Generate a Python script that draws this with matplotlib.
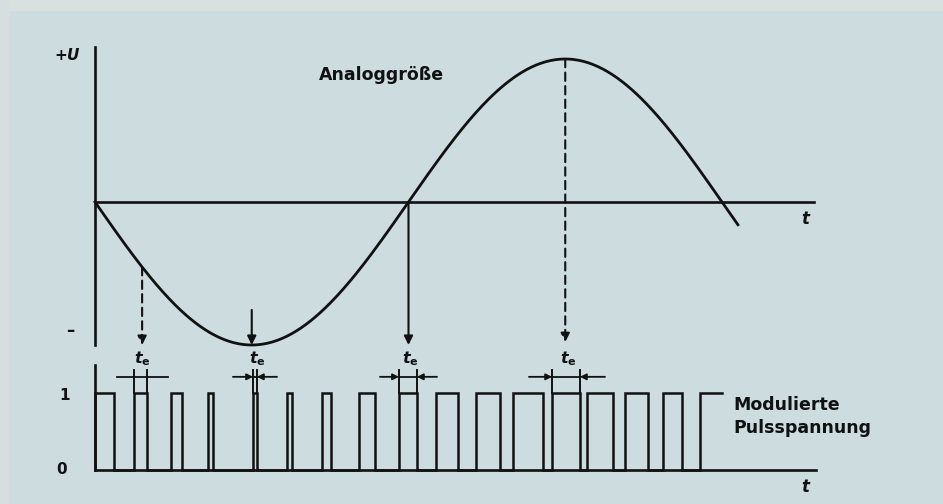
import matplotlib
matplotlib.use("Agg")
import matplotlib.pyplot as plt
import numpy as np
from matplotlib.patches import Rectangle

plt.rcParams["mathtext.fontset"] = "custom"
plt.rcParams["mathtext.it"] = "DejaVu Sans:italic:bold"
plt.rcParams["mathtext.rm"] = "DejaVu Sans:bold"

# Zeitachse in Takt-Einheiten, Analoggröße normiert auf Amplitude 1
T_SIG = 16.5           # Periode der Analoggröße
T_END = 16.92          # Ende der gezeichneten Sinuskurve
T_AXIS = 18.92         # Länge der t-Achse

# Flanken der modulierten Pulsspannung (steigend / fallend)
RISE = [0.0, 1.03, 2.0, 2.97, 4.16, 5.05, 5.97, 6.95, 8.0, 8.97,
        10.03, 11.0, 12.03, 12.95, 13.95, 14.95, 15.92]
FALL = [0.5, 1.37, 2.29, 3.11, 4.26, 5.18, 6.21, 7.37, 8.47, 9.55,
        10.66, 11.79, 12.76, 13.63, 14.55, 15.45]
PULSE_END = 16.5

# Abtastpfeile: (t, von U, bis U, gestrichelt)
ARROWS_T = [1.24, 4.125, 8.25, 12.375]
ARROWS_FROM = [-0.455, -0.755, 0.0, 1.0]
ARROWS_TO = [-1.0, -1.0, -1.0, -0.98]
ARROWS_DASHED = [True, False, False, True]

# Bemaßung t_e: Pulsflanken, Linienenden, Pfeile ja/nein
TE_LEFT = [1.03, 4.16, 8.0, 12.03]
TE_RIGHT = [1.37, 4.26, 8.47, 12.76]
TE_FROM = [0.58, 3.63, 7.5, 11.42]
TE_TO = [1.92, 4.79, 9.0, 13.42]
TE_ARROWS = [False, True, True, True]

BG = "#cddcdf"
INK = "#111111"

fig = plt.figure(figsize=(9.43, 5.04), dpi=100, facecolor=BG)
fig.patches.append(Rectangle((0, 0.98), 1, 0.02, transform=fig.transFigure,
                             color="#d9e0e0", zorder=0))
fig.patches.append(Rectangle((0, 0), 0.009, 1, transform=fig.transFigure,
                             color="#d6dedf", zorder=0))

# x: px = 95 + 38 t ; oben: px = 202 - 143 U ; unten: px = 470 - 77 Pegel
xlim = (-95 / 38, (943 - 95) / 38)
top = fig.add_axes([0, 0, 1, 1], facecolor="none")
top.set_xlim(*xlim); top.set_ylim((202 - 504) / 143, 202 / 143); top.axis("off")
bot = fig.add_axes([0, 0, 1, 1], facecolor="none")
bot.set_xlim(*xlim); bot.set_ylim((470 - 504) / 77, 470 / 77); bot.axis("off")

# --- Analoggröße ---
top.plot([0, 0], [-1.0, (202 - 47) / 143], color=INK, lw=1.9)
top.plot([0, T_AXIS], [0, 0], color=INK, lw=1.9)
t = np.linspace(0, T_END, 400)
top.plot(t, -np.sin(2 * np.pi * t / T_SIG), color=INK, lw=2.0)

for x, y0, y1, dashed in zip(ARROWS_T, ARROWS_FROM, ARROWS_TO, ARROWS_DASHED):
    top.annotate("", xy=(x, y1), xytext=(x, y0),
                 arrowprops=dict(arrowstyle="-|>", color=INK, lw=1.5,
                                 linestyle=(0, (4, 2.5)) if dashed else "-",
                                 mutation_scale=13, shrinkA=0, shrinkB=0))

top.text(-0.72, 1.03, "+$U$", ha="center", va="center", fontsize=11,
         weight="bold", color=INK)
top.text(-0.66, -0.9, "–", ha="center", va="center", fontsize=12,
         weight="bold", color=INK)
top.text(18.71, -0.12, "$t$", ha="center", va="center", fontsize=12, color=INK)
top.text(7.53, 0.89, "Analoggröße", ha="center", va="center", fontsize=12.5,
         weight="bold", color=INK)

# --- modulierte Pulsspannung ---
bot.plot([0, 0], [0, 1.36], color=INK, lw=1.9)
bot.plot([0, T_AXIS + 0.05], [0, 0], color=INK, lw=1.9)
xs, ys = [0.0], [0.0]
for i, r in enumerate(RISE):
    f = FALL[i] if i < len(FALL) else PULSE_END
    xs += [r, r, f]
    ys += [0, 1, 1]
    if i < len(FALL):
        xs.append(f); ys.append(0)
bot.plot(xs, ys, color=INK, lw=1.8, solid_joinstyle="miter")

for l, r, a, b, arr in zip(TE_LEFT, TE_RIGHT, TE_FROM, TE_TO, TE_ARROWS):
    bot.plot([l, l], [1, 1.30], color=INK, lw=1.4)
    bot.plot([r, r], [1, 1.30], color=INK, lw=1.4)
    if arr:
        for x0, x1 in ((a, l), (b, r)):
            bot.annotate("", xy=(x1, 1.21), xytext=(x0, 1.21),
                         arrowprops=dict(arrowstyle="-|>", color=INK, lw=1.3,
                                         mutation_scale=9, shrinkA=0, shrinkB=0))
        bot.plot([l, r], [1.21, 1.21], color=INK, lw=1.3)
    else:
        bot.plot([a, b], [1.21, 1.21], color=INK, lw=1.3)
    bot.text((l + r) / 2 + 0.05, 1.45, r"$t_\mathrm{e}$", ha="center",
             va="center", fontsize=11.5, color=INK)

bot.text(-0.79, 0.97, "1", ha="center", va="center", fontsize=11,
         weight="bold", color=INK)
bot.text(-0.87, 0.0, "0", ha="center", va="center", fontsize=11,
         weight="bold", color=INK)
bot.text(18.71, -0.22, "$t$", ha="center", va="center", fontsize=12, color=INK)
bot.text(16.79, 0.84, "Modulierte", ha="left", va="center", fontsize=12.5,
         weight="bold", color=INK)
bot.text(16.79, 0.55, "Pulsspannung", ha="left", va="center", fontsize=12.5,
         weight="bold", color=INK)

fig.savefig("out.png", dpi=100, facecolor=BG)
plt.close(fig)
